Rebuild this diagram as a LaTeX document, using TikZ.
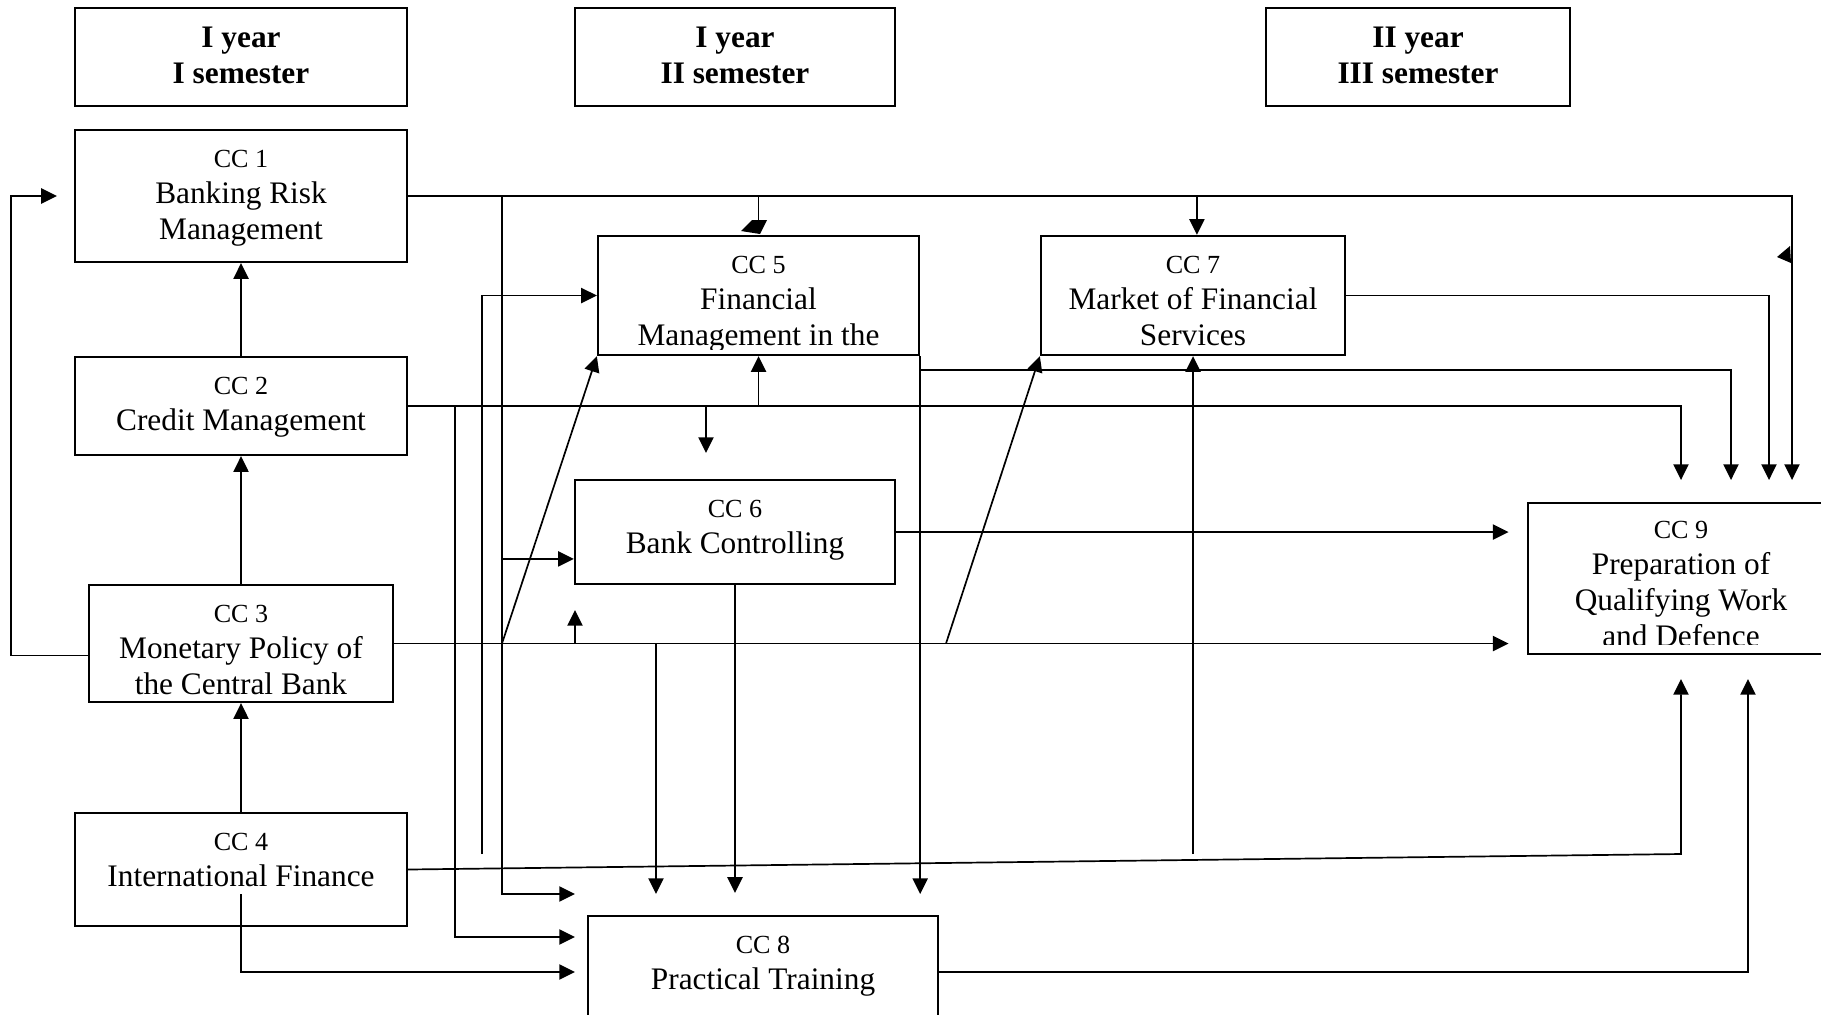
\documentclass[tikz,border=0pt]{standalone}
\usepackage{fontspec}
\setmainfont{Liberation Serif}
\usetikzlibrary{arrows.meta,fit,calc}

\tikzset{
  hdrbox/.style={rectangle, draw, line width=0.9pt, inner sep=0pt},
  hdrtext/.style={anchor=north, yshift=-7.6pt, inner sep=0pt, align=center, font=\fontsize{12}{13.8}\selectfont\bfseries},
  ccbox/.style={rectangle, draw, line width=0.9pt, inner sep=0pt},
  cctext/.style={anchor=north, yshift=-7.8pt, inner sep=0pt, align=center, font=\fontsize{12}{13.8}\selectfont},
  link/.style={line width=0.65pt},
  arr/.style={line width=0.65pt, -{Triangle[length=6pt,width=5.8pt]}},
}
\newcommand{\ccnum}[1]{{\fontsize{10}{12}\selectfont CC #1}}

\begin{document}
\begin{tikzpicture}[x=0.383pt, y=-0.383pt]
    \useasboundingbox (0,0) rectangle (1821,1014);
    \clip (0,0) rectangle (1821,1014);
    % Semesters
    \node (sem1) [hdrbox, fit={(75,8) (407,106)}] {};
    \node (h1) [hdrtext] at (sem1.north) {I year\\I semester};
    \node (sem2) [hdrbox, fit={(575,8) (895,106)}] {};
    \node (h2) [hdrtext] at (sem2.north) {I year\\II semester};
    \node (sem3) [hdrbox, fit={(1266,8) (1570,106)}] {};
    \node (h3) [hdrtext] at (sem3.north) {II year\\III semester};
    % Courses
    \node (cc1) [ccbox, fit={(75,130) (407,262)}] {};
    \node (t1) [cctext] at (cc1.north) {\ccnum{1}\\Banking Risk\\Management};
    \node (cc2) [ccbox, fit={(75,357) (407,455)}] {};
    \node (t2) [cctext] at (cc2.north) {\ccnum{2}\\Credit Management};
    \node (cc3) [ccbox, fit={(89,585) (393,702)}] {};
    \node (t3) [cctext] at (cc3.north) {\ccnum{3}\\Monetary Policy of\\the Central Bank};
    \node (cc4) [ccbox, fit={(75,813) (407,926)}] {};
    \node (t4) [cctext] at (cc4.north) {\ccnum{4}\\International Finance};
    \node (cc5) [ccbox, fit={(598,236) (919,355)}] {};
    \begin{scope}
        \clip (cc5.north west) rectangle ([yshift=2.7pt]cc5.south east);
        \node (t5) [cctext] at (cc5.north) {\ccnum{5}\\Financial\\Management in the};
    \end{scope}
    \node (cc6) [ccbox, fit={(575,480) (895,584)}] {};
    \node (t6) [cctext] at (cc6.north) {\ccnum{6}\\Bank Controlling};
    \node (cc7) [ccbox, fit={(1041,236) (1345,355)}] {};
    \node (t7) [cctext] at (cc7.north) {\ccnum{7}\\Market of Financial\\Services};
    \node (cc8) [ccbox, fit={(588,916) (938,1028)}] {};
    \node (t8) [cctext] at (cc8.north) {\ccnum{8}\\Practical Training};
    \node (cc9) [ccbox, fit={(1528,503) (1834,654)}] {};
    \begin{scope}
        \clip (cc9.north west) rectangle ([yshift=4.2pt]cc9.south east);
        \node (t9) [cctext, yshift=0.6pt] at (cc9.north) {\ccnum{9}\\Preparation of\\Qualifying Work\\and Defence};
    \end{scope}
    % Points
    \coordinate (v1) at (455,0);
    \coordinate (v3) at (502,0);
    \coordinate (v4) at (946,0);
    \coordinate (in1) at (1681,480);
    \coordinate (in2) at (1731,480);
    \coordinate (in3) at (1769,480);
    \coordinate (in4) at (1792,480);
    \coordinate (up2) at (1748,679);
    \coordinate (up1) at (1681,679);
    \coordinate (e1) at (575,894);
    \coordinate (e2) at (575,937);
    \coordinate (e3) at (575,972);
    \coordinate (f1) at (706,453);
    \coordinate (f2) at (482,854);
    \coordinate (f3) at (575,610);
    \coordinate (f4) at (656,894);
    \coordinate (f5) at (1193,854);
    \coordinate (k6) at ([yshift=-10.3pt]cc6.west);
    \coordinate (k7) at ([xshift=1.5pt]cc7.north);
    % Arrows
    \draw[arr] (cc2.north) -- (cc1.south);
    \draw[arr] (cc3.north) -- (cc2.south);
    \draw[arr] (cc4.north) -- (cc3.south);
    \draw[arr] (cc1.east) -| (in4);
    \draw[link] (cc1.east -| cc5.north) -- ++(0,26);
    \fill (752,220) -- (767,220) -- (760,234) -- (741,231) -- cycle;
    \draw[arr] (cc1.east -| k7) -- (k7);
    \fill (1790,246) -- (1791,263) -- (1777,257) -- cycle;
    \draw[arr] (cc1.east -| v3) |- (e1);
    \draw[arr] (v3 |- k6) -- (k6);
    \draw[arr] (cc2.east) -| (in1);
    \draw[arr] (cc2.east -| cc5.south) -- (cc5.south);
    \draw[arr] (cc2.east -| f1) -- (f1);
    \draw[arr] (cc2.east -| v1) |- (e2);
    \draw[arr] (f2) |- (cc5.west);
    \draw[arr] (cc3.east -| v3) -- (cc5.south west);
    \draw[arr, shorten >=7pt] (cc3.east) -- (cc3.east -| cc9.west);
    \draw[arr] (cc3.east -| f3) -- (f3);
    \draw[arr] (cc3.east -| f4) -- (f4);
    \draw[arr] (cc3.east -| v4) -- (cc7.south west);
    \draw[arr, shorten >=6.5pt] ([yshift=-4.6pt]cc3.west) -- ++(-77,0) |- (cc1.west);
    \draw[arr, shorten >=7pt] (cc6.east) -- (cc6.east -| cc9.west);
    \draw[arr, shorten >=8.4pt] (cc6.south) -- (cc6.south |- cc8.north);
    \draw[arr] (cc5.south east) -- (cc5.south east |- e1);
    \draw[arr] ([yshift=-5.4pt]cc5.south east) -| (in2);
    \draw[arr] (cc7.east) -| (in3);
    \draw[arr] (f5) -- (cc7.south);
    \draw[arr] (cc4.east) -- (up1 |- f5) -- (up1);
    \draw[arr] ([yshift=-9.4pt]cc4.center) |- (e3);
    \draw[arr] (cc8.east) -| (up2);
\end{tikzpicture}
\end{document}
